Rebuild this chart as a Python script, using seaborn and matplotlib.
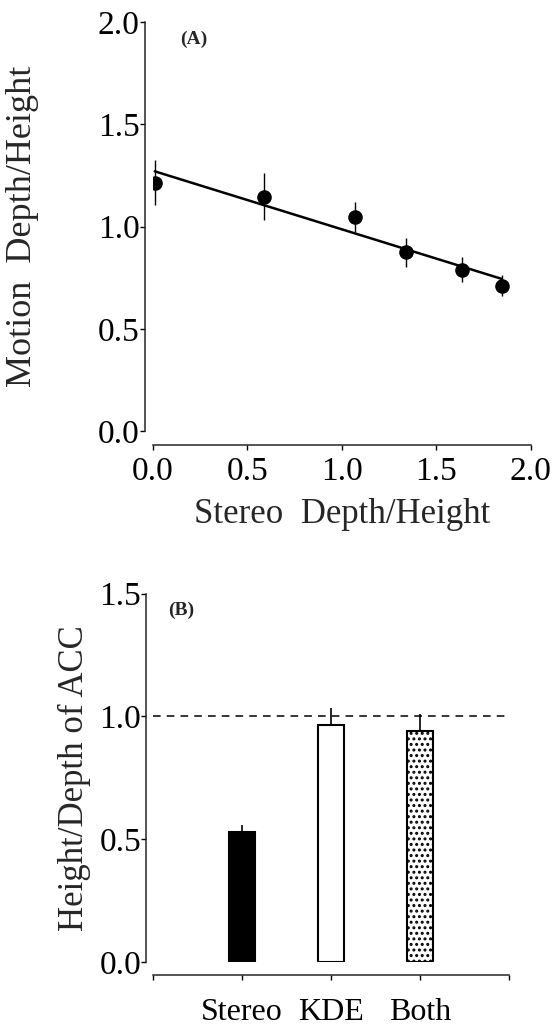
import numpy as np
import pandas as pd
import seaborn as sns
import matplotlib.pyplot as plt

# panel A: motion vs stereo depth (means and error bars)
stereo_depth = [0.01, 0.59, 1.067, 1.341, 1.633, 1.845]
motion_depth = [1.215, 1.146, 1.047, 0.874, 0.790, 0.712]
motion_err = [0.110, 0.115, 0.075, 0.070, 0.062, 0.052]

# panel B: ACC height/depth per cue condition
conditions = ["Stereo", "KDE", "Both"]
acc_ratio = [0.530, 0.965, 0.940]
acc_err = [0.030, 0.070, 0.070]

sns.set_style("ticks")
plt.rcParams['font.family'] = 'serif'
plt.rcParams['font.serif'] = ['Liberation Serif', 'DejaVu Serif']
plt.rcParams['axes.linewidth'] = 1.1
plt.rcParams['hatch.color'] = 'black'
plt.rcParams['hatch.linewidth'] = 1.4


def main():
    fig = plt.figure(figsize=(5.6, 10.27), dpi=100)
    ax_a = fig.add_axes([0.273, 0.580, 0.675, 0.3985])
    ax_b = fig.add_axes([0.273, 0.0632, 0.636, 0.3588])
    plot_regression(ax_a)
    plot_bars(ax_b)
    fig.savefig("out.png", dpi=100)


def plot_regression(ax):
    df = pd.DataFrame({"stereo": stereo_depth, "motion": motion_depth})
    ax.errorbar(df["stereo"], df["motion"], yerr=motion_err, fmt='none',
                ecolor='black', elinewidth=1.0, capsize=0, zorder=2)
    sns.regplot(data=df, x="stereo", y="motion", ci=None, ax=ax,
                scatter_kws=dict(s=90, color='black', alpha=1, zorder=3),
                line_kws=dict(color='black', lw=1.8, zorder=2))
    ax.set_xlim(0, 2)
    ax.set_ylim(0, 2)
    ticks = np.arange(0, 2.01, 0.5)
    ax.set_xticks(ticks)
    ax.set_yticks(ticks)
    ax.set_xticklabels([f"{t:.1f}" for t in ticks])
    ax.set_yticklabels([f"{t:.1f}" for t in ticks])
    ax.tick_params(axis='both', labelsize=24, length=3.5, width=1.0,
                   direction='out', colors='black')
    ax.tick_params(axis='y', pad=0)
    ax.tick_params(axis='x', pad=5)
    ax.set_xlabel("Stereo  Depth/Height", fontsize=25, va='top')
    ax.set_ylabel("Motion  Depth/Height", fontsize=26)
    ax.xaxis.set_label_coords(0.5, -0.162)
    ax.yaxis.set_label_coords(-0.30, 0.5)
    ax.text(0.072, 0.959, "(A)", transform=ax.transAxes, fontsize=14,
            fontweight='bold', ha='left', va='center')
    sns.despine(ax=ax, offset={'left': 6, 'bottom': 9.5})


def plot_bars(ax):
    df = pd.DataFrame({"cond": conditions, "ratio": acc_ratio})
    sns.barplot(data=df, x="cond", y="ratio", hue="cond",
                palette=['black', 'white', 'white'], width=0.3,
                edgecolor='black', linewidth=1.5, legend=False, ax=ax,
                errorbar=None)
    ax.patches[2].set_hatch('...')
    # one-sided (upward) error bars
    ax.errorbar(range(len(conditions)), acc_ratio,
                yerr=[np.zeros(len(acc_err)), acc_err], fmt='none',
                ecolor='black', elinewidth=1.2, capsize=0, zorder=3)
    ax.axhline(1.0, color='black', lw=1.1, ls=(0, (5, 4)), zorder=1)
    ax.set_xlim(-1, 3)
    ax.set_ylim(0, 1.5)
    ax.set_xticks([-1, 0, 1, 2, 3])
    ax.set_xticklabels([""] + conditions + [""])
    yt = [0.0, 0.5, 1.0, 1.5]
    ax.set_yticks(yt)
    ax.set_yticklabels([f"{t:.1f}" for t in yt])
    ax.tick_params(axis='both', length=3.5, width=1.0, direction='out',
                   colors='black')
    ax.tick_params(axis='y', labelsize=24, pad=0)
    ax.tick_params(axis='x', labelsize=23, pad=13)
    ax.set_xlabel("")
    ax.set_ylabel("Height/Depth of ACC", fontsize=25)
    ax.yaxis.set_label_coords(-0.175, 0.5)
    ax.text(0.042, 0.954, "(B)", transform=ax.transAxes, fontsize=14,
            fontweight='bold', ha='left', va='center')
    sns.despine(ax=ax, offset={'left': 5, 'bottom': 9})


if __name__ == "__main__":
    main()
